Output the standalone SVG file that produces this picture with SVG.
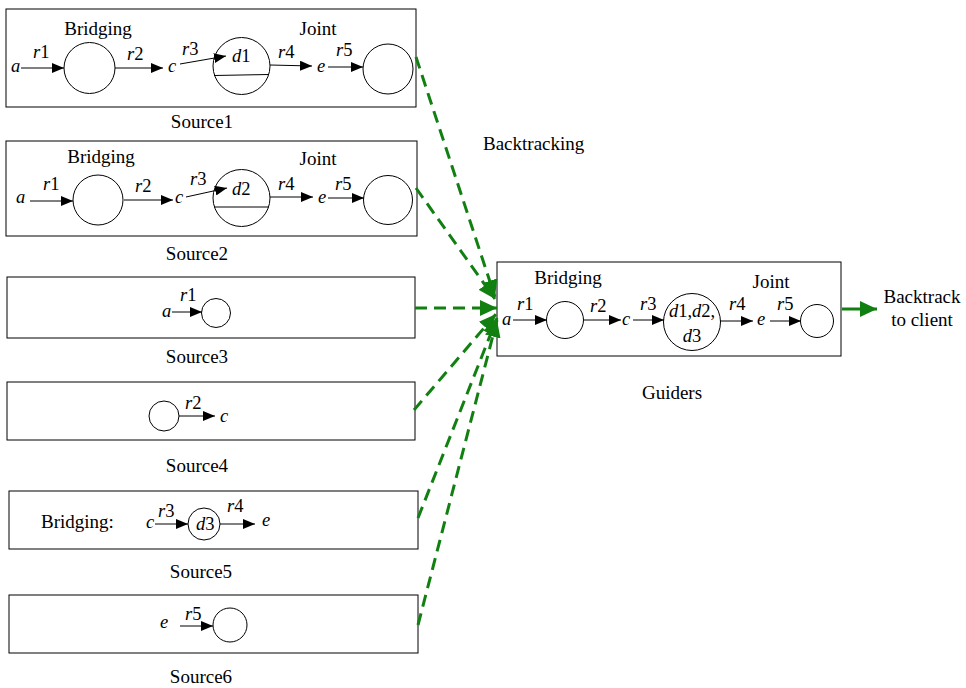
<svg xmlns="http://www.w3.org/2000/svg" width="966" height="688" viewBox="0 0 966 688">
<style>
.t{font-family:"Liberation Serif","Times New Roman",Times,serif;font-size:19px;fill:#000}
.i{font-style:italic;font-size:18.5px}
.n{font-style:normal}
.m{text-anchor:middle}
.box{fill:#fff;stroke:#000;stroke-width:1}
.ln{stroke:#000;stroke-width:1;fill:none;marker-end:url(#ah)}
.pl{stroke:#000;stroke-width:1;fill:none}
.c{fill:#fff;stroke:#000;stroke-width:1}
.g{stroke:#118011;stroke-width:3;stroke-dasharray:12 7;fill:none;marker-end:url(#gh)}
.gs{stroke:#118011;stroke-width:3;fill:none;marker-end:url(#gh)}
</style>
<defs>
<marker id="ah" markerUnits="userSpaceOnUse" markerWidth="12" markerHeight="10" refX="12" refY="5" orient="auto"><path d="M0,0 L12,5 L0,10 z" fill="#000"/></marker>
<marker id="gh" markerUnits="userSpaceOnUse" markerWidth="17" markerHeight="16" refX="17" refY="8" orient="auto"><path d="M0,0 L17,8 L0,16 z" fill="#118011"/></marker>
</defs>
<rect width="966" height="688" fill="#fff"/>

<g id="source1">
<rect class="box" x="6" y="9" width="410" height="98"/>
<text class="t m" x="98" y="35">Bridging</text>
<text class="t m" x="318" y="35">Joint</text>
<circle class="c" cx="89.5" cy="68" r="25.5"/>
<circle class="c" cx="241.5" cy="66" r="28.5"/>
<line class="pl" x1="214" y1="75.5" x2="269" y2="74.5"/>
<circle class="c" cx="388" cy="69" r="25"/>
<line class="ln" x1="21" y1="68" x2="64" y2="68"/>
<line class="ln" x1="115" y1="68" x2="163" y2="68"/>
<line class="ln" x1="180" y1="64" x2="226" y2="56"/>
<line class="ln" x1="270" y1="65" x2="312" y2="66"/>
<line class="ln" x1="328" y1="67" x2="363" y2="67"/>
<text class="t i" x="11" y="72">a</text>
<text class="t i" x="33" y="58">r<tspan class="n">1</tspan></text>
<text class="t i" x="127" y="60">r<tspan class="n">2</tspan></text>
<text class="t i" x="168" y="72">c</text>
<text class="t i" x="182" y="55">r<tspan class="n">3</tspan></text>
<text class="t i" x="232" y="62">d<tspan class="n">1</tspan></text>
<text class="t i" x="278" y="58">r<tspan class="n">4</tspan></text>
<text class="t i" x="317" y="72">e</text>
<text class="t i" x="336" y="56">r<tspan class="n">5</tspan></text>
<text class="t m" x="202" y="128">Source1</text>
</g>

<g id="source2">
<rect class="box" x="6" y="141" width="411" height="95"/>
<text class="t m" x="101" y="163">Bridging</text>
<text class="t m" x="318" y="165">Joint</text>
<circle class="c" cx="98" cy="200" r="25"/>
<circle class="c" cx="241.5" cy="198" r="28.5"/>
<line class="pl" x1="214" y1="207" x2="269" y2="207"/>
<circle class="c" cx="388" cy="200" r="24.5"/>
<line class="ln" x1="30" y1="201" x2="73" y2="201"/>
<line class="ln" x1="124" y1="200" x2="173" y2="200"/>
<line class="ln" x1="186" y1="197" x2="227" y2="188"/>
<line class="ln" x1="270" y1="197" x2="313" y2="197"/>
<line class="ln" x1="328" y1="198" x2="364" y2="198"/>
<text class="t i" x="16" y="203">a</text>
<text class="t i" x="43" y="190">r<tspan class="n">1</tspan></text>
<text class="t i" x="135" y="192">r<tspan class="n">2</tspan></text>
<text class="t i" x="175" y="203">c</text>
<text class="t i" x="190" y="185">r<tspan class="n">3</tspan></text>
<text class="t i" x="232" y="195">d<tspan class="n">2</tspan></text>
<text class="t i" x="278" y="190">r<tspan class="n">4</tspan></text>
<text class="t i" x="318" y="203">e</text>
<text class="t i" x="335" y="190">r<tspan class="n">5</tspan></text>
<text class="t m" x="197" y="260">Source2</text>
</g>

<g id="source3">
<rect class="box" x="7" y="277" width="408" height="61"/>
<circle class="c" cx="216" cy="313" r="14.5"/>
<line class="ln" x1="172" y1="312" x2="202" y2="312"/>
<text class="t i" x="162" y="317">a</text>
<text class="t i" x="180" y="301">r<tspan class="n">1</tspan></text>
<text class="t m" x="197" y="363">Source3</text>
</g>

<g id="source4">
<rect class="box" x="7" y="382" width="408" height="58"/>
<circle class="c" cx="164" cy="416" r="15"/>
<line class="ln" x1="179" y1="416" x2="215" y2="416"/>
<text class="t i" x="185" y="409">r<tspan class="n">2</tspan></text>
<text class="t i" x="220" y="422">c</text>
<text class="t m" x="197" y="472">Source4</text>
</g>

<g id="source5">
<rect class="box" x="9" y="491" width="409" height="58"/>
<text class="t" x="41" y="528">Bridging:</text>
<circle class="c" cx="204" cy="524" r="16"/>
<line class="ln" x1="155" y1="524" x2="188" y2="524"/>
<line class="ln" x1="220" y1="524" x2="255" y2="524"/>
<text class="t i" x="146" y="528">c</text>
<text class="t i" x="158" y="517">r<tspan class="n">3</tspan></text>
<text class="t i" x="196" y="530">d<tspan class="n">3</tspan></text>
<text class="t i" x="227" y="512">r<tspan class="n">4</tspan></text>
<text class="t i" x="262" y="526">e</text>
<text class="t m" x="201" y="578">Source5</text>
</g>

<g id="source6">
<rect class="box" x="9" y="595" width="409" height="58"/>
<circle class="c" cx="230" cy="625" r="17"/>
<line class="ln" x1="180" y1="626" x2="213" y2="626"/>
<text class="t i" x="160" y="628">e</text>
<text class="t i" x="185" y="620">r<tspan class="n">5</tspan></text>
<text class="t m" x="201" y="683">Source6</text>
</g>

<g id="guiders">
<rect class="box" x="497" y="262" width="344" height="94"/>
<text class="t m" x="568" y="284">Bridging</text>
<text class="t m" x="771" y="288">Joint</text>
<circle class="c" cx="565" cy="320" r="18.5"/>
<circle class="c" cx="692" cy="322" r="28.5"/>
<circle class="c" cx="817" cy="321" r="16.5"/>
<line class="ln" x1="513" y1="320" x2="547" y2="320"/>
<line class="ln" x1="584" y1="320" x2="621" y2="320"/>
<line class="ln" x1="633" y1="320" x2="664" y2="320"/>
<line class="ln" x1="720" y1="321" x2="753" y2="321"/>
<line class="ln" x1="770" y1="321" x2="801" y2="321"/>
<text class="t i" x="502" y="325">a</text>
<text class="t i" x="517" y="310">r<tspan class="n">1</tspan></text>
<text class="t i" x="590" y="312">r<tspan class="n">2</tspan></text>
<text class="t i" x="622" y="325">c</text>
<text class="t i" x="640" y="310">r<tspan class="n">3</tspan></text>
<text class="t i m" x="692" y="317">d<tspan class="n">1,</tspan>d<tspan class="n">2,</tspan></text>
<text class="t i m" x="692" y="342">d<tspan class="n">3</tspan></text>
<text class="t i" x="729" y="310">r<tspan class="n">4</tspan></text>
<text class="t i" x="757" y="325">e</text>
<text class="t i" x="777" y="310">r<tspan class="n">5</tspan></text>
<text class="t m" x="672" y="399">Guiders</text>
</g>

<g id="labels">
<text class="t" x="483" y="150">Backtracking</text>
<text class="t m" x="922" y="303">Backtrack</text>
<text class="t m" x="922" y="326">to client</text>
</g>

<g id="connectors">
<line class="g" x1="416" y1="57" x2="495" y2="297"/>
<line class="g" x1="416" y1="188" x2="495" y2="299"/>
<line class="g" x1="415" y1="308" x2="497" y2="308"/>
<line class="g" x1="414" y1="410" x2="496" y2="314"/>
<line class="g" x1="418" y1="518" x2="497" y2="318"/>
<line class="g" x1="418" y1="625" x2="497" y2="320"/>
<line class="gs" x1="842" y1="309" x2="877" y2="309"/>
</g>
</svg>
